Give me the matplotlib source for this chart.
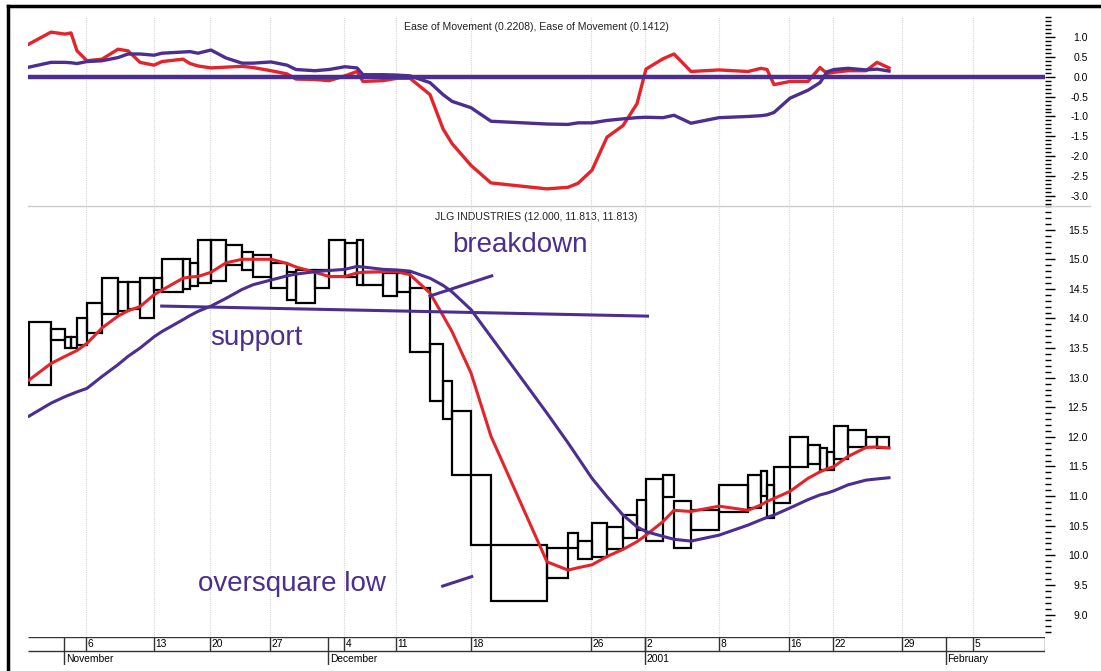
import matplotlib.pyplot as plt
from matplotlib.patches import Rectangle
from matplotlib.lines import Line2D
from matplotlib.ticker import MultipleLocator, FixedLocator
import numpy as np

plt.rcParams['font.family'] = ['Liberation Sans', 'DejaVu Sans']
plt.rcParams['lines.solid_joinstyle'] = 'round'

# equivolume boxes: width = volume, height = high-low
volume = [22, 14, 6, 6, 10, 15, 16, 10, 12, 14, 8, 21, 7, 8, 13, 15, 16, 11, 18, 16,
          9, 19, 14, 16, 12, 6, 20, 14, 13, 20, 13, 9, 19, 20, 56, 21, 10, 14, 15, 16,
          14, 9, 17, 11, 17, 28, 29, 13, 6, 7, 16, 18, 12, 7, 7, 14, 18, 11, 12]
high = [13.94, 13.82, 13.69, 13.69, 14.01, 14.26, 14.69, 14.62, 14.62, 14.69,
        14.69, 15.01, 15.01, 14.94, 15.33, 15.33, 15.24, 15.13, 15.07, 14.94,
        14.79, 14.82, 14.82, 15.33, 15.28, 15.33, 14.79, 14.77, 14.77, 14.52,
        13.57, 12.95, 12.44, 11.36, 10.18, 10.13, 10.38, 10.24, 10.55, 10.48,
        10.68, 10.94, 11.29, 11.36, 10.92, 10.77, 11.19, 11.36, 11.43, 11.19,
        11.49, 12.00, 11.86, 11.81, 11.75, 12.19, 12.12, 12.00, 12.00]
low = [12.88, 13.64, 13.50, 13.50, 13.55, 13.76, 14.08, 14.13, 14.16, 14.01,
       14.48, 14.45, 14.50, 14.55, 14.60, 14.64, 14.91, 14.82, 14.70, 14.52,
       14.31, 14.26, 14.52, 14.70, 14.70, 14.57, 14.57, 14.38, 14.45, 13.44,
       12.61, 12.30, 11.36, 10.18, 9.23, 9.62, 10.13, 9.94, 9.97, 10.11,
       10.29, 10.43, 10.24, 10.99, 10.13, 10.43, 10.73, 10.80, 11.00, 10.63,
       10.89, 11.49, 11.54, 11.44, 11.44, 11.63, 11.83, 11.83, 11.81]
start = 1

# indicator values at box edges (first box left edge, then every right edge)
eom_a = [0.82, 1.12, 1.07, 1.10, 0.65, 0.40, 0.44, 0.69, 0.65, 0.36, 0.29, 0.38,
         0.44, 0.33, 0.27, 0.22, 0.24, 0.26, 0.23, 0.15, 0.07, -0.06, -0.07, -0.10,
         0.02, 0.13, -0.12, -0.10, -0.04, -0.04, -0.45, -1.31, -1.68, -2.23, -2.67,
         -2.82, -2.78, -2.68, -2.35, -1.52, -1.23, -0.68, 0.19, 0.45, 0.57, 0.13,
         0.17, 0.13, 0.21, 0.18, -0.20, -0.12, -0.12, 0.23, 0.08, 0.11, 0.15, 0.15,
         0.36, 0.2208]
eom_b = [0.24, 0.36, 0.36, 0.35, 0.33, 0.38, 0.40, 0.48, 0.57, 0.57, 0.54, 0.59,
         0.62, 0.63, 0.59, 0.67, 0.47, 0.34, 0.34, 0.37, 0.29, 0.18, 0.15, 0.18,
         0.25, 0.22, 0.05, 0.05, 0.04, 0.02, -0.15, -0.45, -0.62, -0.78, -1.12,
         -1.19, -1.20, -1.16, -1.16, -1.10, -1.06, -1.03, -1.02, -1.03, -0.97, -1.17,
         -1.03, -1.00, -0.98, -0.96, -0.90, -0.54, -0.34, -0.15, 0.12, 0.18, 0.21,
         0.17, 0.19, 0.1412]
ma_fast = [12.96, 13.24, 13.36, 13.41, 13.46, 13.58, 13.84, 14.04, 14.13, 14.20,
           14.40, 14.48, 14.68, 14.70, 14.71, 14.78, 14.94, 15.00, 15.00, 15.00,
           14.93, 14.87, 14.78, 14.71, 14.71, 14.77, 14.78, 14.79, 14.79, 14.74,
           14.43, 14.05, 13.78, 13.08, 12.01, 9.89, 9.75, 9.79, 9.84, 9.98,
           10.10, 10.23, 10.34, 10.57, 10.76, 10.74, 10.83, 10.76, 10.85, 10.91,
           10.96, 11.08, 11.30, 11.41, 11.46, 11.50, 11.67, 11.82, 11.83, 11.813]
ma_slow = [12.35, 12.57, 12.68, 12.72, 12.76, 12.82, 13.02, 13.22, 13.36, 13.50,
           13.69, 13.78, 13.98, 14.05, 14.12, 14.21, 14.34, 14.49, 14.57, 14.65,
           14.72, 14.75, 14.79, 14.81, 14.83, 14.88, 14.87, 14.83, 14.82, 14.80,
           14.68, 14.56, 14.45, 14.15, 13.69, 12.40, 11.90, 11.65, 11.30, 10.99,
           10.68, 10.48, 10.40, 10.32, 10.27, 10.24, 10.34, 10.51, 10.60, 10.64,
           10.68, 10.80, 10.94, 11.02, 11.05, 11.09, 11.19, 11.27, 11.29, 11.31]

# date axis
day_pos = [58, 125.6, 181.7, 242.4, 316, 367.6, 442.7, 563.4, 617.4, 690.7, 760.5, 805.4, 873.8, 945.4]
day_lab = ["6", "13", "20", "27", "4", "11", "18", "26", "2", "8", "16", "22", "29", "5"]
month_pos = [36.2, 300.3, 617.4, 917.6]
month_lab = ["November", "December", "2001", "February"]

red = "#e3242b"
purple = "#4b2e8f"
W, H = 1101, 671
xmax = 1017

edges = start + np.concatenate([[0], np.cumsum(volume)])

fig = plt.figure(figsize=(W / 100, H / 100), dpi=100)
ax1 = fig.add_axes([28 / W, (H - 205) / H, xmax / W, 189 / H])
ax2 = fig.add_axes([28 / W, (H - 637) / H, xmax / W, 431 / H])
ax3 = fig.add_axes([28 / W, (H - 665) / H, xmax / W, 28 / H])

# ease of movement panel
ax1.plot(edges, eom_a, color=red, lw=2.4, zorder=3)
ax1.plot(edges, eom_b, color=purple, lw=2.4, zorder=3)
ax1.axhline(0, color=purple, lw=3.2, zorder=4)
ax1.set_ylim(-3.225, 1.525)
ax1.text(0.5, 0.94, "Ease of Movement (0.2208), Ease of Movement (0.1412)",
         transform=ax1.transAxes, ha="center", va="center", fontsize=7.6, color="#222222")

# price panel
for i in range(len(volume)):
    ax2.add_patch(Rectangle((edges[i], low[i]), volume[i], high[i] - low[i],
                            fill=False, edgecolor="black", lw=1.6, zorder=2))
ax2.plot(edges, ma_fast, color=red, lw=2.2, zorder=3)
ax2.plot(edges, ma_slow, color=purple, lw=2.2, zorder=3)
ax2.set_ylim(8.62, 15.9)
ax2.text(0.5, 0.975, "JLG INDUSTRIES (12.000, 11.813, 11.813)",
         transform=ax2.transAxes, ha="center", va="center", fontsize=7.6, color="#222222")

# hand-drawn notes
ax2.plot([133.7, 619.5], [14.21, 14.04], color=purple, lw=2.2, zorder=4)
ax2.plot([402, 463.7], [14.38, 14.72], color=purple, lw=2.2, zorder=4)
ax2.plot([414.7, 443.7], [9.48, 9.64], color=purple, lw=2.2, zorder=4)
ax2.text(424.5, 15.13, "breakdown", color=purple, fontsize=20, va="baseline")
ax2.text(182.4, 13.55, "support", color=purple, fontsize=20, va="baseline")
ax2.text(170.2, 9.39, "oversquare low", color=purple, fontsize=20, va="baseline")

for ax, labels in ((ax1, np.arange(-3.0, 1.01, 0.5)), (ax2, np.arange(9.0, 15.51, 0.5))):
    ax.set_xlim(0, xmax)
    for s in ax.spines.values():
        s.set_visible(False)
    ax.set_xticks([])
    ax.yaxis.tick_right()
    ax.yaxis.set_major_locator(FixedLocator(labels))
    ax.yaxis.set_minor_locator(MultipleLocator(0.1))
    ax.set_yticklabels(["%.1f" % v for v in labels])
    ax.tick_params(axis="y", which="major", length=7, width=1, labelsize=7.5, pad=24)
    ax.tick_params(axis="y", which="minor", length=4, width=1)
    for t in ax.get_yticklabels():
        t.set_horizontalalignment("right")
    for p in day_pos:
        ax.axvline(p, color="#d4d4d4", lw=0.8, ls=(0, (1, 1)), zorder=0)

# date axis
ax3.set_xlim(0, xmax)
ax3.set_ylim(0, 2)
ax3.axis("off")
ax3.hlines([2, 1], 0, xmax, color="#333333", lw=1)
ax3.vlines([xmax], 1, 2, color="#333333", lw=1)
ax3.vlines(day_pos, 1, 2, color="#333333", lw=1)
ax3.vlines(month_pos, 0, 2, color="#333333", lw=1)
for p, t in zip(day_pos, day_lab):
    ax3.text(p + 1.5, 1.5, t, fontsize=7.4, va="center", ha="left")
for p, t in zip(month_pos, month_lab):
    ax3.text(p + 1.5, 0.45, t, fontsize=7.4, va="center", ha="left")

# frame and separator
fig.add_artist(Line2D([8 / W, 1], [(H - 6) / H] * 2, color="black", lw=2.5))
fig.add_artist(Line2D([8 / W] * 2, [0, (H - 6) / H], color="black", lw=2.5))
fig.add_artist(Line2D([28 / W, 1090 / W], [(H - 206) / H] * 2, color="#cccccc", lw=1))

fig.savefig("out.png", dpi=100)
